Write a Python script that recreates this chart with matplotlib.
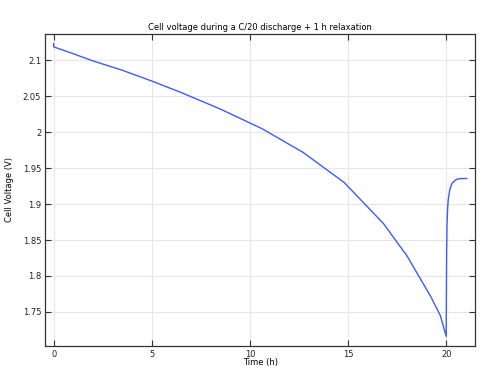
import matplotlib.pyplot as plt
from matplotlib.ticker import FuncFormatter

# discharge at C/20 followed by relaxation
t_h = [0.0, 0.005, 1.0, 2.0, 3.5, 5.0, 6.5, 8.5, 10.6, 12.7, 14.8, 16.8, 18.0,
       19.2, 19.7, 20.0, 20.005, 20.02, 20.04, 20.07, 20.1, 20.15, 20.2,
       20.3, 20.45, 20.6, 20.8, 21.05]
volt = [2.123, 2.1185, 2.109, 2.099, 2.086, 2.071, 2.055, 2.032, 2.005, 1.972,
        1.930, 1.873, 1.828, 1.772, 1.745, 1.716, 1.75, 1.83, 1.87, 1.893,
        1.905, 1.915, 1.922, 1.929, 1.933, 1.935, 1.9355, 1.9355]

fig, ax = plt.subplots(figsize=(4.83, 3.73), dpi=100)
fig.subplots_adjust(left=0.094, right=0.984, top=0.909, bottom=0.073)

ax.plot(t_h, volt, color="#3a5cff", linewidth=1.0)

ax.set_xlim(-0.42, 21.48)
ax.set_ylim(1.703, 2.1365)
ax.set_xticks([0, 5, 10, 15, 20])
ax.set_yticks([1.75, 1.8, 1.85, 1.9, 1.95, 2.0, 2.05, 2.1])
ax.yaxis.set_major_formatter(FuncFormatter(lambda v, p: "%g" % round(v, 3)))

ax.grid(True, color="#e6e6e6", linewidth=0.8)
ax.set_axisbelow(True)
ax.tick_params(direction="in", top=True, right=True, labelsize=6, length=4,
               width=0.8, color="#333333", labelcolor="#222222", pad=3)
for s in ax.spines.values():
    s.set_linewidth(0.9)
    s.set_color("#333333")

ax.set_title("Cell voltage during a C/20 discharge + 1 h relaxation", fontsize=6, pad=3)
ax.set_xlabel("Time (h)", fontsize=6, labelpad=-1)
ax.set_ylabel("Cell Voltage (V)", fontsize=6, labelpad=6)

fig.savefig("out.png", dpi=100)
